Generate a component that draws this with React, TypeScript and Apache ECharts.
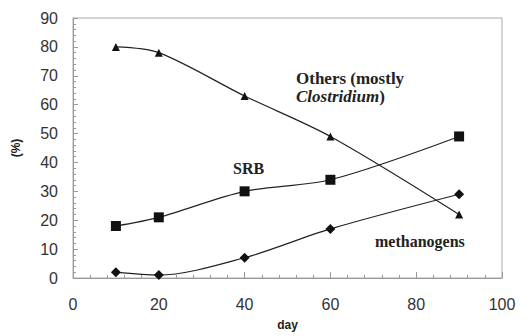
import React, { useEffect, useRef } from "react";
import * as echarts from "echarts";

const days = [10, 20, 40, 60, 90];
const others = [80, 78, 63, 49, 22];
const srb = [18, 21, 30, 34, 49];
const methanogens = [2, 1, 7, 17, 29];

const pair = (ys: number[]) => days.map((d, i) => [d, ys[i]]);

export default function App() {
  const ref = useRef<HTMLDivElement>(null);
  useEffect(() => {
    const chart = echarts.init(ref.current!, undefined, { renderer: "svg" });
    const axisText = { color: "#333", fontFamily: "Liberation Sans, Arial", fontSize: 16 };
    const lineStyle = { color: "#222", width: 1.2 };
    const serifText = (size: number, lh: number) => ({
      fontFamily: "Liberation Serif",
      fontWeight: "bold" as const,
      fontSize: size,
      color: "#222",
      lineHeight: lh,
    });
    const note = (text: string, left: number, top: number, size: number, lh: number) => ({
      text,
      left,
      top,
      padding: 0,
      textStyle: {
        ...serifText(size, lh),
        rich: {
          i: { ...serifText(size, lh), fontStyle: "italic" },
          n: { ...serifText(size, lh) },
        },
      },
    });
    chart.setOption({
      animation: false,
      backgroundColor: "#fff",
      title: [
        note("Others (mostly\n{i|Clostridium}{n|)}", 296, 69, 17, 18),
        note("SRB", 233, 158, 16, 20),
        note("methanogens", 375, 231, 16, 20),
      ],
      grid: {
        left: 73,
        top: 18,
        right: 24,
        bottom: 55,
        show: true,
        borderColor: "#aaa",
        borderWidth: 1,
      },
      xAxis: {
        type: "value",
        min: 0,
        max: 100,
        interval: 20,
        name: "day",
        nameLocation: "middle",
        nameGap: 41,
        nameTextStyle: { color: "#222", fontWeight: "bold", fontSize: 12, fontFamily: "Liberation Sans, Arial" },
        axisLine: { show: true, lineStyle: { color: "#999" } },
        axisTick: { show: true, inside: true, length: 6, lineStyle: { color: "#999" } },
        minorTick: { show: true, splitNumber: 5, length: 3, lineStyle: { color: "#999" } },
        splitLine: { show: false },
        axisLabel: { ...axisText, margin: 18 },
      },
      yAxis: {
        type: "value",
        min: 0,
        max: 90,
        interval: 10,
        name: "(%)",
        nameLocation: "middle",
        nameGap: 51,
        nameRotate: 90,
        nameTextStyle: { color: "#222", fontWeight: "bold", fontSize: 12, fontFamily: "Liberation Sans, Arial" },
        axisLine: { show: true, lineStyle: { color: "#999" } },
        axisTick: { show: true, inside: true, length: 5, lineStyle: { color: "#999" } },
        minorTick: { show: true, splitNumber: 5, length: 3, lineStyle: { color: "#999" } },
        splitLine: { show: false },
        axisLabel: { ...axisText, margin: 15 },
      },
      series: [
        {
          type: "line",
          data: pair(others),
          smooth: 0.3,
          symbol: "triangle",
          symbolSize: 8,
          itemStyle: { color: "#111" },
          lineStyle,
        },
        {
          type: "line",
          data: pair(srb),
          smooth: 0.3,
          symbol: "rect",
          symbolSize: 10,
          itemStyle: { color: "#111" },
          lineStyle,
        },
        {
          type: "line",
          data: pair(methanogens),
          smooth: 0.3,
          symbol: "diamond",
          symbolSize: 10,
          itemStyle: { color: "#111" },
          lineStyle,
        },
      ],
    });
    return () => chart.dispose();
  }, []);
  return <div ref={ref} style={{ width: 526, height: 336, position: "absolute", left: 0, top: 0 }} />;
}
